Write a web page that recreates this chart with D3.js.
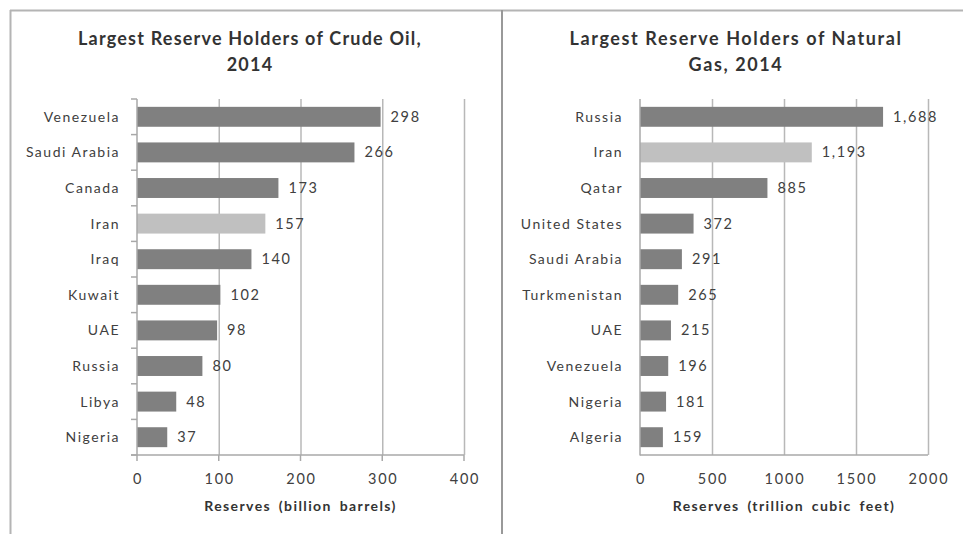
<!DOCTYPE html>
<html><head><meta charset="utf-8">
<script src="https://cdn.jsdelivr.net/npm/d3@7"></script>
<style>
html,body{margin:0;padding:0;background:#fff;}
svg{display:block;}
text{font-family:Lato,"Open Sans",sans-serif;fill:#404040;}
</style></head>
<body>
<script>
const oilCountries = ["Venezuela","Saudi Arabia","Canada","Iran","Iraq","Kuwait","UAE","Russia","Libya","Nigeria"];
const oilValues = [298,266,173,157,140,102,98,80,48,37];
const oilTicks = [0,100,200,300,400];
const gasCountries = ["Russia","Iran","Qatar","United States","Saudi Arabia","Turkmenistan","UAE","Venezuela","Nigeria","Algeria"];
const gasValues = [1688,1193,885,372,291,265,215,196,181,159];
const gasTicks = [0,500,1000,1500,2000];
const highlight = "Iran";

const W = 963, H = 534;
const svg = d3.select("body").append("svg").attr("width", W).attr("height", H);

// frame lines
svg.append("line").attr("x1",10).attr("x2",W).attr("y1",10.5).attr("y2",10.5).attr("stroke","#b4b4b4").attr("stroke-width",2);
svg.append("line").attr("x1",10.5).attr("x2",10.5).attr("y1",10).attr("y2",H).attr("stroke","#b4b4b4").attr("stroke-width",2);
svg.append("line").attr("x1",502).attr("x2",502).attr("y1",10).attr("y2",H).attr("stroke","#999",).attr("stroke-width",2);

function chart(cfg){
  const g = svg.append("g");
  const x = d3.scaleLinear().domain([0, cfg.max]).range([cfg.x0, cfg.x1]);
  const y = d3.scaleBand().domain(cfg.cats).range([99, 455]).paddingInner(0.44).paddingOuter(0.22);
  // title
  const t = g.append("text").attr("x", cfg.tx).attr("text-anchor","middle")
    .style("font-weight","bold").style("font-size","18px").style("letter-spacing",cfg.tls).style("fill","#333");
  t.append("tspan").attr("x",cfg.tx).attr("y",45).text(cfg.title[0]);
  t.append("tspan").attr("x",cfg.tx).attr("y",71).text(cfg.title[1]);
  // grid
  g.selectAll("line.grid").data(cfg.ticks.slice(1)).join("line")
    .attr("x1", d=>x(d)+0.5).attr("x2", d=>x(d)+0.5).attr("y1",99).attr("y2",455)
    .attr("stroke","#b8b8b8").attr("stroke-width",1.5);
  // bars
  g.selectAll("rect").data(cfg.cats).join("rect")
    .attr("x", x(0)).attr("y", d=>y(d))
    .attr("width", (d,i)=>x(cfg.vals[i])-x(0)).attr("height", y.bandwidth())
    .attr("fill", d=> d===highlight ? "#c0c0c0" : "#808080");
  // value labels
  g.selectAll("text.val").data(cfg.cats).join("text").attr("class","val")
    .attr("x", (d,i)=>x(cfg.vals[i])+10).attr("y", d=>y(d)+y.bandwidth()/2+5)
    .style("font-size","14.5px").style("letter-spacing","1.6px").text((d,i)=>d3.format(",")(cfg.vals[i]));
  // axes lines
  g.append("line").attr("x1",x(0)).attr("x2",x(0)).attr("y1",99).attr("y2",455.5).attr("stroke","#a8a8a8").attr("stroke-width",1.5);
  g.append("line").attr("x1",cfg.ticksOut? x(0)-6 : x(0)).attr("x2",x(cfg.max)).attr("y1",455).attr("y2",455).attr("stroke","#a8a8a8").attr("stroke-width",1.5);
  if(cfg.ticksOut){
    const bounds = d3.range(cfg.cats.length+1).map(i=>99+i*(356/cfg.cats.length));
    g.selectAll("line.ct").data(bounds).join("line")
      .attr("x1",x(0)-6).attr("x2",x(0)).attr("y1",d=>d).attr("y2",d=>d).attr("stroke","#a8a8a8").attr("stroke-width",1.5);
    g.selectAll("line.xt").data(cfg.ticks).join("line")
      .attr("x1",d=>x(d)).attr("x2",d=>x(d)).attr("y1",455).attr("y2",461).attr("stroke","#a8a8a8").attr("stroke-width",1.5);
  }
  // category labels
  g.selectAll("text.cat").data(cfg.cats).join("text").attr("class","cat")
    .attr("x", x(0)-17).attr("y", d=>y(d)+y.bandwidth()/2+5).attr("text-anchor","end")
    .style("font-size","14px").style("letter-spacing","1.5px").text(d=>d);
  // tick labels
  g.selectAll("text.tk").data(cfg.ticks).join("text").attr("class","tk")
    .attr("x", d=>x(d)+1).attr("y",484).attr("text-anchor","middle")
    .style("font-size","14.5px").style("letter-spacing","1.8px").text(d=>d);
  g.append("text").attr("x",(x(0)+x(cfg.max))/2).attr("y",511).attr("text-anchor","middle")
    .style("font-weight","bold").style("font-size","14px").style("letter-spacing","1.4px").style("word-spacing","3px").style("fill","#333").text(cfg.xtitle);
}

chart({cats:oilCountries, vals:oilValues, ticks:oilTicks, max:400, x0:137, x1:464, tx:250, tls:"1.2px",
  title:["Largest Reserve Holders of Crude Oil,","2014"], xtitle:"Reserves (billion barrels)", ticksOut:true});
chart({cats:gasCountries, vals:gasValues, ticks:gasTicks, max:2000, x0:640, x1:928, tx:736, tls:"1.6px",
  title:["Largest Reserve Holders of Natural","Gas, 2014"], xtitle:"Reserves (trillion cubic feet)", ticksOut:false});
</script>
</body></html>
